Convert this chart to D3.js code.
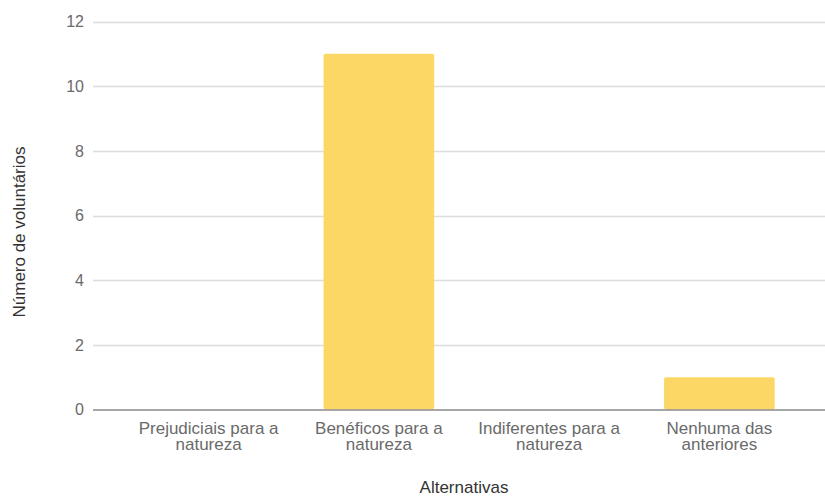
<!DOCTYPE html>
<html>
<head>
<meta charset="utf-8">
<script src="https://cdn.jsdelivr.net/npm/d3@7/dist/d3.min.js"></script>
<style>
  html, body { margin: 0; padding: 0; background: #fff; }
  svg { display: block; font-family: "Liberation Sans", Arial, sans-serif; }
</style>
</head>
<body>
<svg id="chart" width="825" height="497"></svg>
<script>
// Respostas por alternativa
const categories = [
  ["Prejudiciais para a", "natureza"],
  ["Benéficos para a", "natureza"],
  ["Indiferentes para a", "natureza"],
  ["Nenhuma das", "anteriores"]
];
const values = [0, 11, 0, 1];
const yTicks = [0, 2, 4, 6, 8, 10, 12];
const xTitle = "Alternativas";
const yTitle = "Número de voluntários";

const svg = d3.select("#chart");
const W = 825;

const y = d3.scaleLinear().domain([0, 12]).range([409.5, 21.5]);
const x = d3.scaleBand()
  .domain(d3.range(categories.length))
  .range([123.5, 804.5])
  .paddingInner(0.35)
  .paddingOuter(0.175);

// Linhas de grade
const grid = svg.append("g");
grid.selectAll("line")
  .data(yTicks.filter(t => t !== 0))
  .join("line")
  .attr("x1", 93).attr("x2", W)
  .attr("y1", d => Math.round(y(d)) + 0.5)
  .attr("y2", d => Math.round(y(d)) + 0.5)
  .attr("stroke", "#dcdcdc")
  .attr("stroke-width", 1.3);

// Rótulos do eixo Y
svg.append("g").selectAll("text")
  .data(yTicks)
  .join("text")
  .attr("x", 84)
  .attr("y", d => y(d))
  .attr("dy", "0.36em")
  .attr("text-anchor", "end")
  .attr("font-size", 16)
  .attr("fill", "#6a6a6a")
  .text(d => d);

// Barras
svg.append("g").selectAll("rect")
  .data(values)
  .join("rect")
  .attr("x", (d, i) => x(i))
  .attr("width", x.bandwidth())
  .attr("y", d => y(d))
  .attr("height", d => y(0) - y(d))
  .attr("rx", 2)
  .attr("fill", "#fdd766");

// Linha de base
svg.append("line")
  .attr("x1", 93).attr("x2", W)
  .attr("y1", y(0) + 0.5).attr("y2", y(0) + 0.5)
  .attr("stroke", "#8a8a8a")
  .attr("stroke-width", 1.5);

// Rótulos das categorias
const cat = svg.append("g").selectAll("text")
  .data(categories)
  .join("text")
  .attr("text-anchor", "middle")
  .attr("font-size", 17)
  .attr("fill", "#6a6a6a");
cat.each(function(lines, i) {
  d3.select(this).selectAll("tspan")
    .data(lines)
    .join("tspan")
    .attr("x", x(i) + x.bandwidth() / 2)
    .attr("y", (d, j) => 434 + j * 16)
    .text(d => d);
});

// Títulos dos eixos
svg.append("text")
  .attr("x", 464)
  .attr("y", 493)
  .attr("text-anchor", "middle")
  .attr("font-size", 17)
  .attr("fill", "#333")
  .text(xTitle);

svg.append("text")
  .attr("transform", "translate(25,232) rotate(-90)")
  .attr("text-anchor", "middle")
  .attr("font-size", 17)
  .attr("fill", "#333")
  .text(yTitle);
</script>
</body>
</html>
